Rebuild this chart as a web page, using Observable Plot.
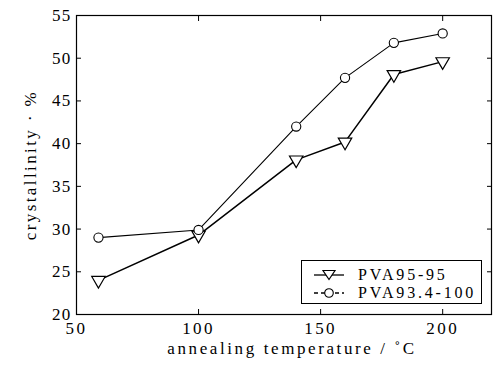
<!DOCTYPE html>
<html>
<head>
<meta charset="utf-8">
<script src="https://cdn.jsdelivr.net/npm/d3@7"></script>
<script src="https://cdn.jsdelivr.net/npm/@observablehq/plot@0.6"></script>
<style>
  html, body { margin: 0; padding: 0; background: #fff; }
  #wrap { position: relative; width: 493px; height: 367px; font-family: "Liberation Serif", "Times New Roman", serif; }
  #wrap svg text { font-family: "Liberation Serif", "Times New Roman", serif !important; }
  #legend { position: absolute; left: 301px; top: 260px; width: 181px; height: 44px; border: 1px solid #000; background: #fff; box-sizing: border-box; }
  #legend .row { position: absolute; left: 0; height: 18px; display: flex; align-items: center; }
  #legend .lab { font-size: 16px; letter-spacing: 2.8px; color: #000; margin-left: 6px; }
</style>
</head>
<body>
<div id="wrap"></div>
<script>
// temperatures (°C)
const temps = [59, 100, 140, 160, 180, 200];
// PVA95-95 crystallinity (%)
const pva9595 = [24.0, 29.3, 38.1, 40.2, 48.1, 49.6];
// PVA93.4-100 crystallinity (%)
const pva934 = [29.0, 29.9, 42.0, 47.7, 51.8, 52.9];
const seriesNames = ["PVA95-95", "PVA93.4-100"];
const xTicks = [50, 100, 150, 200];
const yTicks = [20, 25, 30, 35, 40, 45, 50, 55];
const xLabel = "annealing temperature / ˚C";
const yLabel = "crystallinity · %";

const rowsA = temps.map((t, i) => ({t, v: pva9595[i]}));
const rowsB = temps.map((t, i) => ({t, v: pva934[i]}));

const serif = "Liberation Serif";
const chart = Plot.plot({
  width: 493,
  height: 367,
  marginLeft: 76,
  marginRight: 2,
  marginTop: 15,
  marginBottom: 53,
  style: {background: "#fff", color: "#000", fontFamily: serif},
  x: {domain: [50, 220]},
  y: {domain: [20, 55]},
  marks: [
    Plot.axisX({anchor: "bottom", ticks: xTicks, tickSize: 0, tickPadding: 7, label: null, fontSize: 17}),
    Plot.axisX({anchor: "bottom", ticks: xTicks, tickSize: -5, tickFormat: () => "", label: null}),
    Plot.axisX({anchor: "top", ticks: xTicks, tickSize: -5, tickFormat: () => "", label: null}),
    Plot.axisY({anchor: "left", ticks: yTicks, tickSize: 0, tickPadding: 5, label: null, fontSize: 17}),
    Plot.axisY({anchor: "left", ticks: yTicks, tickSize: -5, tickFormat: () => "", label: null}),
    Plot.axisY({anchor: "right", ticks: yTicks, tickSize: -5, tickFormat: () => "", label: null}),
    Plot.frame({stroke: "#000", strokeWidth: 1.2}),
    Plot.line(rowsA, {x: "t", y: "v", stroke: "#000", strokeWidth: 1.5}),
    Plot.line(rowsB, {x: "t", y: "v", stroke: "#000", strokeWidth: 1.1}),
    Plot.dot(rowsA, {x: "t", y: "v", symbol: "triangle", rotate: 180, r: 5, stroke: "#000", fill: "#fff", strokeWidth: 1.2}),
    Plot.dot(rowsB, {x: "t", y: "v", symbol: "circle", r: 4.6, stroke: "#000", fill: "#fff", strokeWidth: 1.1}),
    Plot.text([xLabel], {text: d => d, frameAnchor: "bottom", textAnchor: "middle", dx: 8, dy: 39, fontSize: 17, fill: "#000"}),
    Plot.text([yLabel], {text: d => d, frameAnchor: "left", textAnchor: "middle", dx: -46, rotate: -90, fontSize: 17, fill: "#000"})
  ]
});
const wrap = document.getElementById("wrap");
wrap.appendChild(chart);
// the scanned original has widely spaced lettering
const yTickStr = new Set(yTicks.map(String));
const setLS = (t, ls) => { t.setAttribute("letter-spacing", ls); t.style.letterSpacing = ls; };
chart.querySelectorAll("text").forEach(t => {
  const s = t.textContent;
  if (s === xLabel) setLS(t, "2.6px");
  else if (s === yLabel) setLS(t, "2.4px");
  else if (yTickStr.has(s)) setLS(t, "1.2px");
});
chart.querySelectorAll("g[aria-label='x-axis tick label'] text").forEach(t => setLS(t, "2.4px"));

// legend overlay
const legend = document.createElement("div");
legend.id = "legend";
const symbols = ["tri", "circ"];
seriesNames.forEach((name, i) => {
  const row = document.createElement("div");
  row.className = "row";
  row.style.top = (5 + i * 18) + "px";
  const sym = symbols[i] === "tri"
    ? '<path d="M6,-4.5L-6,-4.5L0,4.5Z" fill="#fff" stroke="#000" stroke-width="1.2"/>'
    : '<circle r="4.3" fill="#fff" stroke="#000" stroke-width="1.1"/>';
  const dash = i === 1 ? ' stroke-dasharray="4,3"' : '';
  row.innerHTML = `<svg width="46" height="18" style="margin-left:4px"><g transform="translate(23,9)"><line x1="-15" x2="15" stroke="#000" stroke-width="1.3"${dash}/>${sym}</g></svg><span class="lab">${name}</span>`;
  legend.appendChild(row);
});
wrap.appendChild(legend);
</script>
</body>
</html>
